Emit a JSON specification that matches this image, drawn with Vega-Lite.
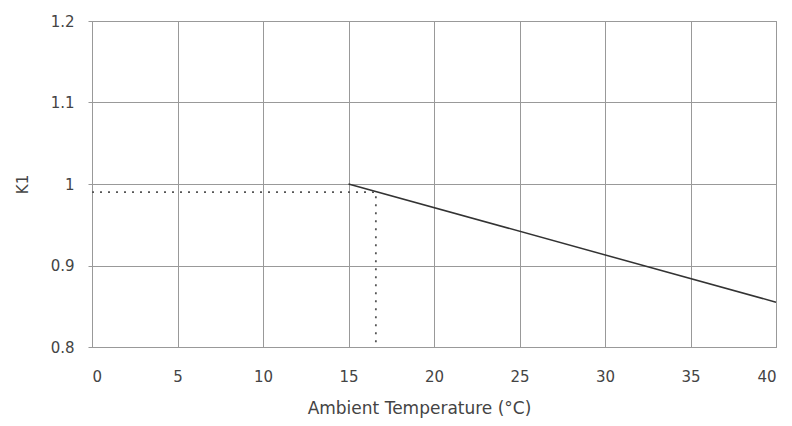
{
  "$schema": "https://vega.github.io/schema/vega-lite/v6.json",
  "width": 684,
  "height": 326,
  "autosize": "none",
  "padding": {"left": 92, "top": 21, "right": 16, "bottom": 79},
  "background": "white",
  "config": {
    "view": {"stroke": "#888", "strokeWidth": 1},
    "axis": {
      "labelFont": "DejaVu Sans",
      "titleFont": "DejaVu Sans",
      "labelColor": "#444",
      "titleColor": "#444",
      "labelFontSize": 15,
      "titleFontSize": 17,
      "titleFontWeight": "normal",
      "gridColor": "#999",
      "gridOpacity": 1,
      "gridWidth": 1,
      "domain": false,
      "tickColor": "#999"
    }
  },
  "datasets": {
    "curve": [
      {"temp": 15, "k1": 1.0},
      {"temp": 40, "k1": 0.855}
    ],
    "guide": [
      {"temp": 0, "k1": 0.99, "ord": 1},
      {"temp": 16.6, "k1": 0.99, "ord": 2},
      {"temp": 16.6, "k1": 0.8, "ord": 3}
    ]
  },
  "layer": [
    {
      "data": {"name": "curve"},
      "mark": {"type": "line", "color": "#333", "strokeWidth": 1.5},
      "encoding": {
        "x": {
          "field": "temp",
          "type": "quantitative",
          "scale": {"domain": [0, 40], "nice": false},
          "axis": {
            "values": [0, 5, 10, 15, 20, 25, 30, 35, 40],
            "title": "Ambient Temperature (°C)",
            "tickSize": 0,
            "labelPadding": 22,
            "titlePadding": 16,
            "titleX": 327
          }
        },
        "y": {
          "field": "k1",
          "type": "quantitative",
          "scale": {"domain": [0.8, 1.2], "nice": false, "zero": false},
          "axis": {
            "values": [0.8, 0.9, 1.0, 1.1, 1.2],
            "title": "K1",
            "titleFontSize": 15,
            "tickSize": 4,
            "labelPadding": 14,
            "titlePadding": 20,
            "labelExpr": "datum.value == 1 ? '1' : format(datum.value, '.1f')"
          }
        }
      }
    },
    {
      "data": {"name": "guide"},
      "mark": {"type": "line", "color": "#555", "strokeWidth": 1.8, "strokeDash": [2, 6]},
      "encoding": {
        "x": {"field": "temp", "type": "quantitative"},
        "y": {"field": "k1", "type": "quantitative"},
        "order": {"field": "ord"}
      }
    }
  ]
}
